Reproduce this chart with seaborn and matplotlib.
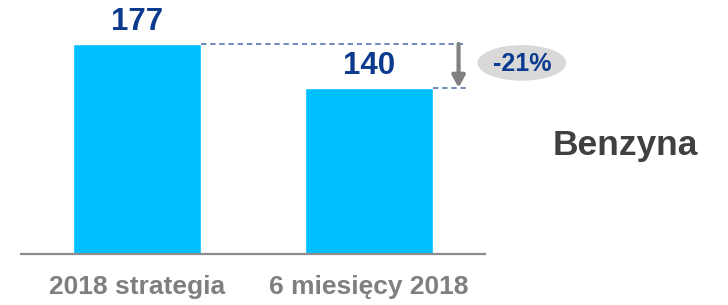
import matplotlib
matplotlib.use("Agg")
import matplotlib.pyplot as plt
from matplotlib.patches import Ellipse
import seaborn as sns
import pandas as pd

categories = ["2018 strategia", "6 miesięcy 2018"]
values = [177, 140]
change_label = "-21%"
side_label = "Benzyna"

sns.set_style("white")
FONT = "Liberation Sans"
plt.rcParams["font.family"] = [FONT, "DejaVu Sans"]

df = pd.DataFrame({"cat": categories, "val": values})

fig = plt.figure(figsize=(7.28, 3.05), dpi=100)
ax = fig.add_axes([21/728, 51/305, 464/728, 254/305])

sns.barplot(data=df, x="cat", y="val", color="#00BFFF", saturation=1,
            width=0.556, ax=ax)
ax.set_xlim(-0.5, 1.5)
ax.set_ylim(0, 214)
ax.set_xlabel("")
ax.set_ylabel("")
ax.set_yticks([])
for s in ["top", "left", "right"]:
    ax.spines[s].set_visible(False)
ax.spines["bottom"].set_color("#8c8c8c")
ax.spines["bottom"].set_linewidth(1.6)
ax.tick_params(axis="x", length=0, pad=15)
ax.set_xticks(range(len(categories)))
ax.set_xticklabels(categories, family=FONT, fontsize=19, fontweight="bold",
                   color="#7f7f7f")

dark_blue = "#0b3a8e"
for i, v in enumerate(values):
    ax.text(i, v + 5.5, str(v), ha="center", va="bottom", fontsize=22.5,
            family=FONT, fontweight="bold", color=dark_blue)

bw = 0.556 / 2
xr = 1.416
ax.plot([0 + bw, xr], [values[0], values[0]], ls=(0, (3.5, 2.5)), color="#4a69a8",
        lw=1.1, clip_on=False)
ax.plot([1 + bw, xr], [values[1], values[1]], ls=(0, (3.5, 2.5)), color="#4a69a8",
        lw=1.1, clip_on=False)
ax.annotate("", xy=(1.386, values[1]), xytext=(1.386, values[0]),
            arrowprops=dict(arrowstyle="-|>,head_width=0.38,head_length=0.7",
                            color="#808080", lw=3, shrinkA=0, shrinkB=0),
            annotation_clip=False)
ell = Ellipse((1.659, 161), 0.383, 30, facecolor="#d9d9d9", edgecolor="none",
              clip_on=False)
ax.add_patch(ell)
ax.text(1.659, 160, change_label, ha="center", va="center", fontsize=18,
        family=FONT, fontweight="bold", color=dark_blue)

fig.text(625/728, 1 - 146/305, side_label, ha="center", va="center",
         fontsize=25.5, family=FONT, fontweight="bold", color="#404040")

fig.savefig("out.png", dpi=100)
